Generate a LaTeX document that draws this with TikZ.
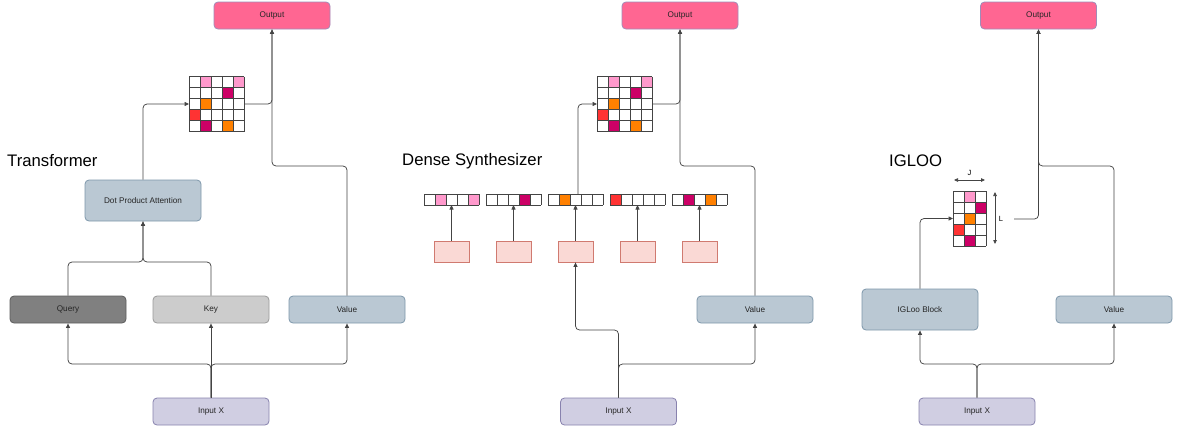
\documentclass[tikz,border=0pt]{standalone}
\usepackage{fontspec}
\setmainfont{Liberation Sans}
\usetikzlibrary{arrows.meta}
\definecolor{outfill}{HTML}{FF6692}
\definecolor{outdraw}{HTML}{A08CB8}
\definecolor{bluefill}{HTML}{BAC8D3}
\definecolor{bluedraw}{HTML}{7E97AB}
\definecolor{qfill}{HTML}{808080}
\definecolor{qdraw}{HTML}{5C5C5C}
\definecolor{kfill}{HTML}{CCCCCC}
\definecolor{kdraw}{HTML}{9A9A9A}
\definecolor{infill}{HTML}{D0CEE2}
\definecolor{indraw}{HTML}{8882AE}
\definecolor{sfill}{HTML}{FAD9D5}
\definecolor{sdraw}{HTML}{D07A70}
\definecolor{cpink}{HTML}{FF99CC}
\definecolor{cmag}{HTML}{CC0066}
\definecolor{corange}{HTML}{FF8000}
\definecolor{cred}{HTML}{FF3333}
\definecolor{linec}{HTML}{444444}
\newcommand\paintcells[3]{\foreach \c/\r/\k in {#3} {\fill[\k] ({#1+11*\c},{#2+11*\r}) rectangle ++(11,11);}}
\newcommand\cellgrid[4]{%
  \foreach \i in {0,...,#3} {\draw[gridline] ({#1+11*\i},#2) -- ({#1+11*\i},{#2+11*#4});}
  \foreach \j in {0,...,#4} {\draw[gridline] (#1,{#2+11*\j}) -- ({#1+11*#3},{#2+11*\j});}
}
\begin{document}
\begin{tikzpicture}[x=1pt,y=-1pt,
  box/.style={draw, rounded corners=4pt, line width=0.8pt, minimum width=116, minimum height=27, inner sep=0pt, font=\fontsize{8.2}{9}\selectfont, text=black!85},
  outbox/.style={box, fill=outfill, draw=outdraw},
  bluebox/.style={box, fill=bluefill, draw=bluedraw},
  qbox/.style={box, fill=qfill, draw=qdraw},
  kbox/.style={box, fill=kfill, draw=kdraw},
  inbox/.style={box, fill=infill, draw=indraw},
  smallbox/.style={draw=sdraw, fill=sfill, line width=0.8pt, minimum width=35, minimum height=21, inner sep=0pt},
  gridline/.style={draw=linec, line width=0.6pt},
  conn/.style={draw=linec, line width=0.75pt, rounded corners=4pt},
  arr/.style={conn, -{Triangle[length=4.5pt,width=4pt]}},
  title/.style={font=\fontsize{16.7}{18}\selectfont, anchor=west, inner sep=0pt},
  small/.style={font=\fontsize{7.5}{8}\selectfont, inner sep=0pt},
  hold/.style={inner sep=0pt, outer sep=0pt}
]
\useasboundingbox (0,0) rectangle (1178,429);

% ================= Transformer =================
\node[title] (t1) at (7,161) {Transformer};
\node[outbox] (O1) at (272,15.5) {Output};
\node[bluebox, minimum height=41] (DPA) at (143,200.5) {Dot Product Attention};
\node[qbox] (Q) at (68,309.5) {Query};
\node[kbox] (K) at (211,309.5) {Key};
\node[bluebox] (V1) at (347,309.5) {Value};
\node[inbox] (I1) at (211,411.5) {Input X};
\paintcells{189}{76.5}{1/0/cpink,4/0/cpink,3/1/cmag,1/2/corange,0/3/cred,1/4/cmag,3/4/corange}
\cellgrid{189}{76.5}{5}{5}
\node[hold, minimum width=55, minimum height=55] (M1) at (216.5,104) {};
\coordinate (j1) at (143,262);
\coordinate (b1) at (211,364);
\coordinate (c1) at (272,166);
\draw[arr] (Q.north) |- (j1) -- (DPA.south);
\draw[arr] (K.north) |- (j1) -- (DPA.south);
\draw[arr] (DPA.north) |- (M1.west);
\draw[arr] (M1.east) -| (O1.south);
\draw[arr] (V1.north) |- (c1) -- (O1.south);
\draw[arr] (I1.north) -- (b1) -| (Q.south);
\draw[arr] (I1.north) -- (b1) -| (V1.south);
\draw[arr] (I1.north) -- (K.south);

% ================= Dense Synthesizer =================
\node[title] (t2) at (402,161) {Dense Synthesizer};
\node[outbox] (O2) at (680,15.5) {Output};
\node[bluebox] (V2) at (755,309.5) {Value};
\node[inbox] (I2) at (618.5,411.5) {Input X};
\paintcells{597}{76.5}{1/0/cpink,4/0/cpink,3/1/cmag,1/2/corange,0/3/cred,1/4/cmag,3/4/corange}
\cellgrid{597}{76.5}{5}{5}
\node[hold, minimum width=55, minimum height=55] (M2) at (624.5,104) {};
% vectors
\paintcells{424}{194}{1/0/cpink,4/0/cpink}
\cellgrid{424}{194}{5}{1}
\paintcells{486}{194}{3/0/cmag}
\cellgrid{486}{194}{5}{1}
\paintcells{548}{194}{1/0/corange}
\cellgrid{548}{194}{5}{1}
\paintcells{610}{194}{0/0/cred}
\cellgrid{610}{194}{5}{1}
\paintcells{672}{194}{1/0/cmag,3/0/corange}
\cellgrid{672}{194}{5}{1}
\foreach \n/\x in {1/451.5,2/513.5,3/575.5,4/637.5,5/699.5} {
  \node[hold, minimum width=55, minimum height=11] (vec\n) at (\x,199.5) {};
  \node[smallbox] (p\n) at (\x,251.5) {};
  \draw[arr] (p\n.north) -- (vec\n.south);
}
\coordinate (c2) at (680,166);
\coordinate (b2a) at (618.5,364);
\coordinate (b2b) at (618.5,330);
\draw[arr] ([xshift=2.5pt]vec3.north) |- (M2.west);
\draw[arr] (M2.east) -| (O2.south);
\draw[arr] (V2.north) |- (c2) -- (O2.south);
\draw[arr] (I2.north) -- (b2a) -| (V2.south);
\draw[arr] (I2.north) -- (b2b) -| (p3.south);

% ================= IGLOO =================
\node[title] (t3) at (889,161) {IGLOO};
\node[outbox] (O3) at (1038.5,15.5) {Output};
\node[bluebox, minimum height=41] (B) at (920,309.5) {IGLoo Block};
\node[bluebox] (V3) at (1114,309.5) {Value};
\node[inbox] (I3) at (977,411.5) {Input X};
\paintcells{953}{191}{1/0/cpink,2/1/cmag,1/2/corange,0/3/cred,1/4/cmag}
\cellgrid{953}{191}{3}{5}
\node[hold, minimum width=33, minimum height=55] (M3) at (969.5,218.5) {};
\coordinate (ja) at (954,180);
\coordinate (jb) at (985,180);
\coordinate (la) at (995,192);
\coordinate (lb) at (995,244);
\draw[conn, {Triangle[length=4pt,width=3.5pt]}-{Triangle[length=4pt,width=3.5pt]}] (ja) -- (jb);
\draw[conn, {Triangle[length=4pt,width=3.5pt]}-{Triangle[length=4pt,width=3.5pt]}] (la) -- (lb);
\node[small] (lj) at (969.5,173) {J};
\node[small] (ll) at (1001,219) {L};
\coordinate (l3) at (1014,219);
\coordinate (c3) at (1038.5,166);
\coordinate (b3) at (977,364);
\draw[arr] (l3) -| (O3.south);
\draw[arr] (V3.north) |- (c3) -- (O3.south);
\draw[arr] (B.north) |- (M3.west);
\draw[arr] (I3.north) -- (b3) -| (B.south);
\draw[arr] (I3.north) -- (b3) -| (V3.south);
\end{tikzpicture}
\end{document}
